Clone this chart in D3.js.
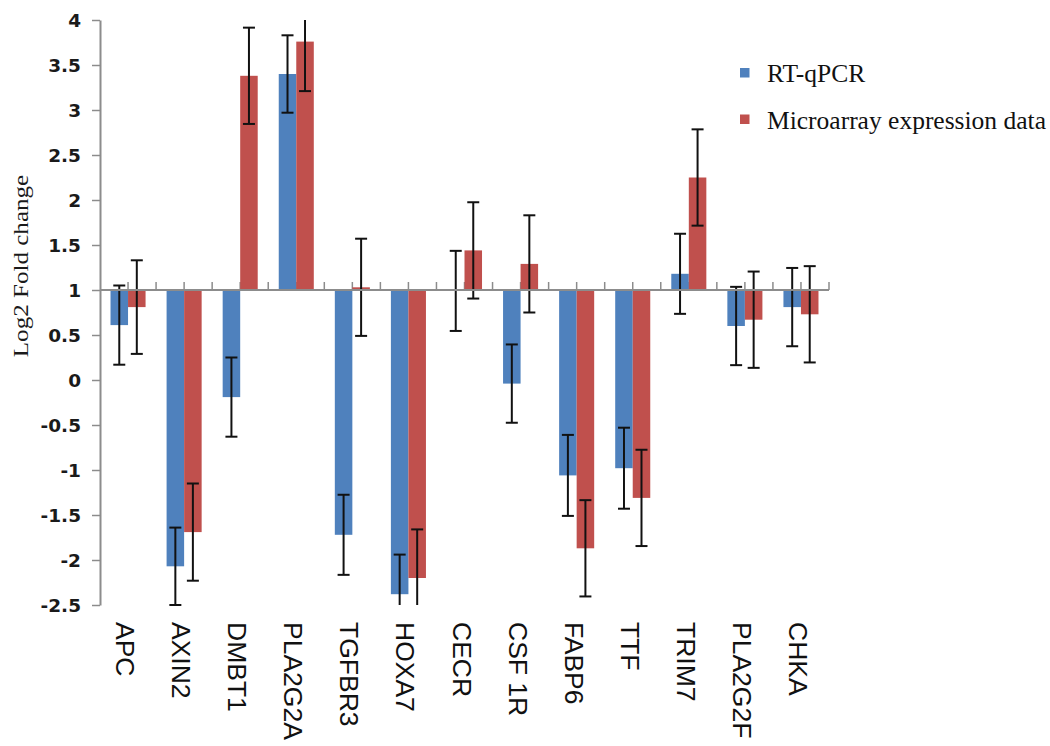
<!DOCTYPE html>
<html>
<head>
<meta charset="utf-8">
<script src="https://cdn.jsdelivr.net/npm/d3@7"></script>
<style>
  html, body { margin: 0; padding: 0; background: #fff; }
  svg { display: block; }
</style>
</head>
<body>
<svg id="chart" width="1050" height="746"></svg>
<script>
const categories = ["APC","AXIN2","DMBT1","PLA2G2A","TGFBR3","HOXA7","CECR","CSF 1R","FABP6","TTF","TRIM7","PLA2G2F","CHKA"];
const seriesNames = ["RT-qPCR","Microarray expression data"];
const rtqpcr    = [0.61, -2.07, -0.19, 3.40, -1.72, -2.38, 0.99, -0.04, -1.06, -0.98, 1.18, 0.60, 0.81];
const rtqpcrErr = [0.44, 0.43, 0.44, 0.43, 0.445, 0.44, 0.445, 0.435, 0.45, 0.45, 0.445, 0.435, 0.435];
const microarray    = [0.81, -1.69, 3.38, 3.76, 1.03, -2.20, 1.44, 1.29, -1.87, -1.31, 2.25, 0.67, 0.73];
const microarrayErr = [0.52, 0.54, 0.535, 0.55, 0.54, 0.54, 0.535, 0.54, 0.535, 0.535, 0.535, 0.535, 0.535];
const yTicks = [4, 3.5, 3, 2.5, 2, 1.5, 1, 0.5, 0, -0.5, -1, -1.5, -2, -2.5];
const baseline = 1;
const yDomain = [-2.5, 4];
const colors = ["#4F81BD", "#C0504D"];

(function () {
const svg = d3.select("#chart");
const pLeft = 100, pRight = 829, pTop = 20, pBottom = 605;

const y = d3.scaleLinear().domain(yDomain).range([pBottom, pTop]);
const x0 = d3.scaleBand().domain(categories).range([pLeft, pRight]).paddingInner(0).paddingOuter(0);
const x1 = d3.scaleBand().domain(seriesNames).range([0, x0.bandwidth()]).paddingInner(0).paddingOuter(0.6);

const rows = categories.map((c, i) => ({
  cat: c,
  vals: [
    {s: seriesNames[0], v: rtqpcr[i], e: rtqpcrErr[i], c: colors[0]},
    {s: seriesNames[1], v: microarray[i], e: microarrayErr[i], c: colors[1]}
  ]
}));

const axisColor = "#8c8c8c";

// x-axis tick marks (every half category), drawn above the baseline
const tickXs = [];
categories.forEach(c => { tickXs.push(x0(c)); tickXs.push(x0(c) + x0.bandwidth() / 2); });
tickXs.push(pRight);
svg.append("g").selectAll("line").data(tickXs.slice(1)).join("line")
  .attr("x1", d => d).attr("x2", d => d)
  .attr("y1", y(baseline)).attr("y2", y(baseline) - 8)
  .attr("stroke", axisColor).attr("stroke-width", 1.5);

// bars
const groups = svg.append("g").selectAll("g").data(rows).join("g")
  .attr("transform", d => `translate(${x0(d.cat)},0)`);
groups.selectAll("rect").data(d => d.vals).join("rect")
  .attr("x", d => x1(d.s))
  .attr("width", x1.bandwidth())
  .attr("y", d => Math.min(y(d.v), y(baseline)))
  .attr("height", d => Math.max(0.8, Math.abs(y(d.v) - y(baseline))))
  .attr("fill", d => d.c);

// x axis line at baseline
svg.append("line")
  .attr("x1", pLeft).attr("x2", pRight)
  .attr("y1", y(baseline)).attr("y2", y(baseline))
  .attr("stroke", axisColor).attr("stroke-width", 2);

// error bars
const capW = 6;
groups.each(function(d) {
  const g = d3.select(this);
  d.vals.forEach(v => {
    const cx = x1(v.s) + x1.bandwidth() / 2;
    const hiRaw = v.v + v.e, loRaw = v.v - v.e;
    const hi = Math.min(hiRaw, yDomain[1]), lo = Math.max(loRaw, yDomain[0]);
    g.append("line").attr("x1", cx).attr("x2", cx)
      .attr("y1", y(hi)).attr("y2", y(lo))
      .attr("stroke", "#111").attr("stroke-width", 2);
    if (hiRaw <= yDomain[1] + 1e-9)
      g.append("line").attr("x1", cx - capW).attr("x2", cx + capW)
        .attr("y1", y(hi)).attr("y2", y(hi)).attr("stroke", "#111").attr("stroke-width", 2);
    if (loRaw >= yDomain[0] - 0.03)
      g.append("line").attr("x1", cx - capW).attr("x2", cx + capW)
        .attr("y1", y(lo)).attr("y2", y(lo)).attr("stroke", "#111").attr("stroke-width", 2);
  });
});

// y axis
const yAxis = svg.append("g").attr("transform", `translate(${pLeft},0)`)
  .call(d3.axisLeft(y).tickValues(yTicks).tickSize(8).tickSizeOuter(0).tickPadding(11)
        .tickFormat(d => String(d)));
yAxis.select(".domain").attr("stroke", axisColor).attr("stroke-width", 2);
yAxis.selectAll(".tick line").attr("stroke", axisColor).attr("stroke-width", 1.5);
yAxis.selectAll(".tick text")
  .attr("font-family", "'DejaVu Sans', sans-serif")
  .attr("font-weight", "bold")
  .attr("font-size", 18.5)
  .attr("fill", "#1a1a1a")
  .attr("dy", "0.36em");

// category labels, rotated to read downward
svg.append("g").selectAll("text").data(categories).join("text")
  .attr("transform", d => `translate(${x0(d) + x0.bandwidth() / 2 - 12},622) rotate(90)`)
  .attr("text-anchor", "start")
  .attr("dominant-baseline", "alphabetic")
  .attr("font-family", "'Liberation Sans', Arial, sans-serif")
  .attr("font-size", 26.5)
  .attr("fill", "#111")
  .text(d => d);

// y-axis title
svg.append("text")
  .attr("transform", "translate(28,266) rotate(-90) scale(1.14,1)")
  .attr("text-anchor", "middle")
  .attr("font-family", "'Liberation Serif', 'Times New Roman', serif")
  .attr("font-size", 22)
  .attr("fill", "#1a1a1a")
  .text("Log2 Fold change");

// legend
const legend = svg.append("g");
const legendY = [72.5, 119];
seriesNames.forEach((s, i) => {
  legend.append("rect").attr("x", 740).attr("y", legendY[i] - 4.5)
    .attr("width", 9.5).attr("height", 9.5).attr("fill", colors[i]);
  legend.append("text").attr("x", 767).attr("y", legendY[i] + 9.5)
    .attr("font-family", "'Liberation Serif', 'Times New Roman', serif")
    .attr("font-size", 25.5)
    .attr("fill", "#111")
    .text(s);
});
})();
</script>
</body>
</html>
